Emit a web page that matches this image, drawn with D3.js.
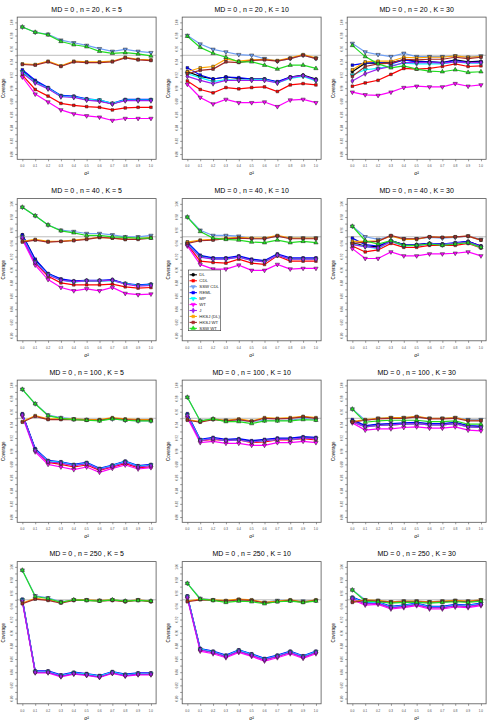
<!DOCTYPE html>
<html>
<head>
<meta charset="utf-8">
<title>coverage</title>
<script src="https://d3js.org/d3.v7.min.js"></script>
<style>
  body { margin: 0; background: #fff; }
  text { font-family: "Liberation Sans", Arial, sans-serif; }
</style>
</head>
<body>
<svg width="495" height="726" id="mainsvg"></svg>
<script>
// methods in legend order
const methods = ["DL", "CDL", "SSW CDL", "REML", "MP", "WT", "J", "HKSJ (DL)", "HKSJ WT", "SSW WT"];
const tau2 = [0, 0.1, 0.2, 0.3, 0.4, 0.5, 0.6, 0.7, 0.8, 0.9, 1.0];
const nValues = [20, 40, 100, 250];
const kValues = [5, 10, 30];
const yTicks = [0.80, 0.82, 0.84, 0.86, 0.88, 0.90, 0.92, 0.94, 0.96, 0.98, 1.00];

// coverage per panel, rows follow `methods`
const cov_n20_k5 = [
  [0.926,0.910,0.900,0.888,0.887,0.883,0.881,0.876,0.882,0.882,0.882],
  [0.920,0.898,0.888,0.877,0.874,0.872,0.871,0.867,0.870,0.871,0.871],
  [0.993,0.985,0.982,0.973,0.969,0.965,0.960,0.956,0.959,0.956,0.954],
  [0.928,0.912,0.901,0.889,0.888,0.884,0.882,0.877,0.883,0.883,0.883],
  [0.925,0.909,0.900,0.888,0.887,0.883,0.882,0.877,0.882,0.882,0.882],
  [0.917,0.891,0.879,0.867,0.861,0.858,0.856,0.851,0.854,0.854,0.854],
  [0.923,0.908,0.899,0.887,0.886,0.882,0.880,0.876,0.881,0.881,0.881],
  [0.937,0.936,0.941,0.934,0.941,0.940,0.940,0.941,0.947,0.944,0.943],
  [0.936,0.935,0.940,0.933,0.940,0.939,0.939,0.940,0.946,0.943,0.942],
  [0.993,0.985,0.981,0.971,0.966,0.963,0.956,0.953,0.954,0.952,0.949]
];
const cov_n20_k10 = [
  [0.925,0.918,0.914,0.917,0.915,0.914,0.914,0.909,0.917,0.920,0.914],
  [0.911,0.898,0.893,0.901,0.899,0.901,0.902,0.895,0.905,0.907,0.905],
  [0.980,0.967,0.959,0.955,0.951,0.950,0.945,0.941,0.945,0.950,0.945],
  [0.931,0.920,0.914,0.917,0.916,0.914,0.914,0.910,0.917,0.919,0.913],
  [0.922,0.916,0.910,0.913,0.912,0.913,0.913,0.908,0.915,0.918,0.911],
  [0.906,0.886,0.876,0.883,0.878,0.878,0.879,0.872,0.882,0.883,0.878],
  [0.918,0.912,0.907,0.912,0.912,0.912,0.912,0.908,0.916,0.919,0.912],
  [0.925,0.931,0.933,0.944,0.941,0.943,0.944,0.942,0.946,0.951,0.946],
  [0.922,0.927,0.929,0.940,0.939,0.942,0.943,0.941,0.945,0.950,0.945],
  [0.979,0.962,0.953,0.947,0.940,0.940,0.935,0.929,0.935,0.935,0.930]
];
const cov_n20_k30 = [
  [0.925,0.938,0.938,0.939,0.943,0.941,0.940,0.939,0.943,0.940,0.941],
  [0.903,0.908,0.912,0.921,0.930,0.929,0.930,0.933,0.937,0.933,0.934],
  [0.968,0.955,0.951,0.948,0.953,0.948,0.948,0.948,0.949,0.947,0.949],
  [0.935,0.938,0.939,0.937,0.943,0.940,0.940,0.939,0.942,0.939,0.940],
  [0.920,0.928,0.930,0.934,0.938,0.937,0.937,0.937,0.940,0.938,0.938],
  [0.894,0.890,0.889,0.894,0.901,0.903,0.902,0.902,0.907,0.903,0.905],
  [0.911,0.922,0.929,0.933,0.939,0.939,0.939,0.938,0.940,0.939,0.939],
  [0.928,0.940,0.941,0.941,0.947,0.946,0.947,0.947,0.949,0.947,0.948],
  [0.918,0.933,0.937,0.938,0.944,0.943,0.944,0.944,0.947,0.945,0.947],
  [0.965,0.948,0.937,0.931,0.934,0.929,0.926,0.925,0.928,0.924,0.925]
];
const cov_n40_k5 = [
  [0.953,0.915,0.894,0.885,0.882,0.883,0.883,0.884,0.879,0.876,0.878],
  [0.948,0.910,0.890,0.880,0.877,0.877,0.877,0.878,0.874,0.872,0.873],
  [0.995,0.982,0.968,0.960,0.958,0.955,0.955,0.953,0.950,0.950,0.952],
  [0.953,0.916,0.894,0.886,0.883,0.884,0.884,0.885,0.879,0.877,0.878],
  [0.950,0.912,0.893,0.884,0.881,0.883,0.883,0.883,0.879,0.876,0.877],
  [0.946,0.907,0.885,0.873,0.868,0.871,0.868,0.873,0.864,0.862,0.863],
  [0.949,0.911,0.892,0.884,0.882,0.883,0.883,0.884,0.878,0.875,0.876],
  [0.943,0.946,0.943,0.943,0.945,0.947,0.949,0.948,0.946,0.947,0.949],
  [0.942,0.945,0.942,0.943,0.944,0.946,0.949,0.948,0.946,0.946,0.948],
  [0.995,0.982,0.968,0.959,0.956,0.952,0.952,0.950,0.949,0.948,0.948]
];
const cov_n40_k10 = [
  [0.940,0.921,0.917,0.917,0.920,0.915,0.913,0.923,0.917,0.917,0.917],
  [0.938,0.913,0.911,0.910,0.916,0.910,0.908,0.921,0.913,0.913,0.913],
  [0.980,0.960,0.952,0.952,0.951,0.947,0.947,0.951,0.948,0.948,0.948],
  [0.942,0.922,0.918,0.918,0.921,0.916,0.914,0.924,0.918,0.918,0.918],
  [0.939,0.920,0.916,0.916,0.919,0.914,0.912,0.922,0.916,0.916,0.916],
  [0.936,0.908,0.901,0.901,0.907,0.899,0.899,0.908,0.901,0.902,0.902],
  [0.938,0.919,0.916,0.916,0.919,0.914,0.912,0.922,0.916,0.916,0.916],
  [0.942,0.945,0.946,0.948,0.949,0.948,0.948,0.952,0.948,0.948,0.948],
  [0.940,0.944,0.945,0.947,0.948,0.947,0.947,0.951,0.947,0.947,0.947],
  [0.980,0.958,0.948,0.946,0.945,0.942,0.941,0.945,0.941,0.943,0.941]
];
const cov_n40_k30 = [
  [0.941,0.936,0.935,0.944,0.938,0.938,0.940,0.939,0.940,0.943,0.936],
  [0.936,0.927,0.930,0.940,0.934,0.934,0.937,0.937,0.937,0.940,0.933],
  [0.966,0.950,0.946,0.951,0.947,0.947,0.949,0.948,0.949,0.951,0.946],
  [0.948,0.938,0.936,0.944,0.938,0.938,0.940,0.939,0.941,0.943,0.936],
  [0.939,0.935,0.932,0.943,0.936,0.937,0.939,0.938,0.940,0.941,0.934],
  [0.932,0.917,0.917,0.927,0.921,0.921,0.924,0.924,0.925,0.927,0.921],
  [0.938,0.935,0.933,0.943,0.937,0.937,0.939,0.938,0.940,0.942,0.935],
  [0.943,0.943,0.944,0.951,0.946,0.946,0.950,0.949,0.950,0.951,0.945],
  [0.940,0.942,0.943,0.952,0.947,0.947,0.950,0.949,0.950,0.951,0.945],
  [0.966,0.944,0.939,0.944,0.937,0.937,0.939,0.937,0.939,0.941,0.934]
];
const cov_n100_k5 = [
  [0.956,0.903,0.885,0.883,0.879,0.882,0.873,0.878,0.884,0.877,0.879],
  [0.956,0.902,0.883,0.880,0.876,0.879,0.871,0.876,0.881,0.875,0.876],
  [0.994,0.972,0.955,0.951,0.949,0.948,0.947,0.949,0.947,0.946,0.946],
  [0.957,0.904,0.886,0.884,0.880,0.883,0.874,0.879,0.885,0.878,0.880],
  [0.955,0.902,0.885,0.883,0.879,0.882,0.873,0.878,0.884,0.877,0.879],
  [0.953,0.899,0.880,0.876,0.872,0.876,0.868,0.874,0.879,0.873,0.875],
  [0.955,0.901,0.884,0.882,0.878,0.881,0.872,0.877,0.883,0.876,0.878],
  [0.945,0.954,0.949,0.949,0.949,0.948,0.948,0.951,0.949,0.948,0.948],
  [0.944,0.953,0.948,0.948,0.948,0.947,0.947,0.950,0.948,0.947,0.947],
  [0.994,0.972,0.954,0.950,0.948,0.947,0.946,0.949,0.947,0.946,0.946]
];
const cov_n100_k10 = [
  [0.956,0.917,0.920,0.917,0.918,0.915,0.917,0.919,0.919,0.921,0.920],
  [0.953,0.916,0.918,0.916,0.917,0.913,0.914,0.917,0.917,0.919,0.917],
  [0.982,0.946,0.949,0.947,0.947,0.945,0.947,0.947,0.947,0.950,0.948],
  [0.957,0.918,0.921,0.918,0.919,0.916,0.918,0.920,0.920,0.922,0.921],
  [0.955,0.917,0.919,0.916,0.917,0.914,0.916,0.918,0.918,0.920,0.919],
  [0.951,0.913,0.915,0.912,0.912,0.909,0.909,0.913,0.913,0.915,0.913],
  [0.954,0.916,0.919,0.916,0.917,0.914,0.916,0.918,0.918,0.920,0.919],
  [0.948,0.945,0.949,0.947,0.949,0.946,0.951,0.950,0.951,0.953,0.951],
  [0.947,0.944,0.948,0.946,0.948,0.945,0.950,0.949,0.950,0.952,0.950],
  [0.982,0.946,0.949,0.945,0.945,0.942,0.946,0.946,0.946,0.948,0.947]
];
const cov_n100_k30 = [
  [0.946,0.938,0.940,0.941,0.942,0.943,0.941,0.941,0.943,0.938,0.937],
  [0.945,0.937,0.939,0.940,0.941,0.942,0.940,0.940,0.942,0.937,0.936],
  [0.964,0.947,0.950,0.951,0.951,0.952,0.950,0.950,0.951,0.948,0.948],
  [0.948,0.939,0.941,0.942,0.943,0.944,0.942,0.942,0.944,0.939,0.938],
  [0.945,0.937,0.939,0.940,0.941,0.942,0.940,0.940,0.942,0.937,0.936],
  [0.943,0.932,0.934,0.934,0.936,0.937,0.935,0.935,0.937,0.932,0.931],
  [0.945,0.937,0.939,0.940,0.941,0.942,0.940,0.940,0.942,0.937,0.936],
  [0.945,0.948,0.950,0.951,0.951,0.953,0.950,0.950,0.951,0.947,0.947],
  [0.944,0.947,0.949,0.950,0.950,0.952,0.949,0.949,0.950,0.946,0.946],
  [0.964,0.944,0.946,0.947,0.947,0.947,0.945,0.945,0.946,0.941,0.941]
];
const cov_n250_k5 = [
  [0.950,0.841,0.841,0.835,0.839,0.837,0.834,0.840,0.836,0.838,0.838],
  [0.949,0.840,0.840,0.834,0.838,0.836,0.833,0.839,0.835,0.837,0.837],
  [0.995,0.956,0.953,0.947,0.950,0.950,0.949,0.950,0.948,0.950,0.948],
  [0.951,0.842,0.842,0.836,0.840,0.838,0.835,0.841,0.837,0.839,0.839],
  [0.950,0.841,0.841,0.835,0.839,0.837,0.834,0.840,0.836,0.838,0.838],
  [0.947,0.839,0.839,0.833,0.837,0.835,0.832,0.838,0.834,0.836,0.836],
  [0.948,0.840,0.840,0.834,0.838,0.836,0.833,0.839,0.835,0.837,0.837],
  [0.945,0.952,0.950,0.946,0.950,0.950,0.949,0.950,0.948,0.950,0.948],
  [0.944,0.951,0.949,0.945,0.949,0.949,0.948,0.949,0.947,0.949,0.947],
  [0.995,0.955,0.952,0.946,0.950,0.949,0.948,0.950,0.948,0.949,0.948]
];
const cov_n250_k10 = [
  [0.955,0.875,0.871,0.865,0.873,0.867,0.860,0.865,0.871,0.864,0.871],
  [0.954,0.874,0.870,0.864,0.872,0.866,0.859,0.864,0.870,0.863,0.870],
  [0.975,0.952,0.950,0.948,0.950,0.949,0.946,0.949,0.949,0.948,0.949],
  [0.956,0.876,0.872,0.866,0.874,0.868,0.861,0.866,0.872,0.865,0.872],
  [0.955,0.875,0.871,0.865,0.873,0.867,0.860,0.865,0.871,0.864,0.871],
  [0.952,0.872,0.868,0.862,0.870,0.864,0.857,0.862,0.868,0.861,0.868],
  [0.954,0.874,0.870,0.864,0.872,0.866,0.859,0.864,0.870,0.863,0.870],
  [0.948,0.951,0.950,0.949,0.951,0.950,0.946,0.948,0.950,0.947,0.950],
  [0.947,0.950,0.949,0.948,0.950,0.949,0.945,0.947,0.949,0.946,0.949],
  [0.975,0.951,0.949,0.946,0.948,0.947,0.944,0.947,0.948,0.946,0.948]
];
const cov_n250_k30 = [
  [0.953,0.945,0.946,0.939,0.941,0.944,0.939,0.939,0.942,0.941,0.944],
  [0.952,0.944,0.945,0.938,0.940,0.943,0.938,0.938,0.941,0.940,0.943],
  [0.965,0.950,0.949,0.947,0.948,0.948,0.947,0.948,0.949,0.948,0.950],
  [0.954,0.946,0.947,0.940,0.942,0.945,0.940,0.940,0.943,0.942,0.945],
  [0.953,0.945,0.946,0.939,0.941,0.944,0.939,0.939,0.942,0.941,0.944],
  [0.950,0.942,0.943,0.936,0.938,0.941,0.936,0.936,0.939,0.938,0.941],
  [0.952,0.944,0.945,0.938,0.940,0.943,0.938,0.938,0.941,0.940,0.943],
  [0.947,0.950,0.949,0.947,0.948,0.948,0.947,0.948,0.949,0.948,0.950],
  [0.946,0.949,0.948,0.946,0.947,0.947,0.946,0.947,0.948,0.947,0.949],
  [0.965,0.948,0.947,0.945,0.946,0.946,0.945,0.946,0.947,0.946,0.948]
];

const covByPanel = [
  [cov_n20_k5, cov_n20_k10, cov_n20_k30],
  [cov_n40_k5, cov_n40_k10, cov_n40_k30],
  [cov_n100_k5, cov_n100_k10, cov_n100_k30],
  [cov_n250_k5, cov_n250_k10, cov_n250_k30]
];

const colors = ["#000000", "#ff0000", "#6f9ff5", "#0000ff", "#00ffff", "#ff00ff", "#a020f0", "#ffa500", "#a52a2a", "#22dd22"];
const shapes = ["circle", "square", "down", "square", "down", "down", "diamond", "square", "square", "up"];

const svg = d3.select('#mainsvg');
const panelW = 165, panelH = 181.5;

// same scales in every panel (R style 4% padding)
const xScale = d3.scaleLinear().domain([-0.04, 1.04]).range([17.2, 156.1]);
const yScale = d3.scaleLinear().domain([0.792, 1.008]).range([159.3, 17.1]);

const line = d3.line().x((d, i) => xScale(tau2[i])).y(d => yScale(d));

function symbolPath(shape) {
  if (shape === 'circle') return d3.symbol(d3.symbolCircle, 7)();
  if (shape === 'square') return d3.symbol(d3.symbolSquare, 7)();
  if (shape === 'diamond') return d3.symbol(d3.symbolDiamond, 8)();
  return d3.symbol(d3.symbolTriangle, 8)();
}
function symbolTransform(shape, x, y) {
  return `translate(${x},${y})` + (shape === 'down' ? ' rotate(180)' : '');
}

nValues.forEach((n, r) => {
  kValues.forEach((K, c) => {
    const g = svg.append('g').attr('transform', `translate(${c * panelW}, ${r * panelH})`);
    const data = covByPanel[r][c];

    g.append('text')
      .attr('x', (xScale.range()[0] + xScale.range()[1]) / 2)
      .attr('y', 11.5)
      .attr('text-anchor', 'middle')
      .attr('font-size', '7px')
      .text(`MD = 0 , n = ${n} , K = ${K}`);

    // reference line at 0.95
    g.append('line')
      .attr('x1', xScale.range()[0]).attr('x2', xScale.range()[1])
      .attr('y1', yScale(0.95)).attr('y2', yScale(0.95))
      .attr('stroke', '#bdbdbd').attr('stroke-width', 1);

    // y axis
    const yAxis = d3.axisLeft(yScale)
      .tickValues(d3.range(0.80, 1.0001, 0.01))
      .tickSize(2).tickFormat('');
    g.append('g').attr('transform', `translate(${xScale.range()[0]},0)`).call(yAxis)
      .call(a => a.select('.domain').remove())
      .selectAll('line').attr('stroke', '#333').attr('stroke-width', 0.5);
    g.selectAll('.ylab').data(yTicks).join('text')
      .attr('class', 'ylab')
      .attr('transform', d => `translate(12.5,${yScale(d)}) rotate(-90)`)
      .attr('text-anchor', 'middle')
      .attr('font-size', '3px').attr('fill', '#444')
      .text(d => d.toFixed(2));

    // x axis
    const xAxis = d3.axisBottom(xScale).tickValues(tau2).tickSize(2).tickFormat('');
    g.append('g').attr('transform', `translate(0,${yScale.range()[0]})`).call(xAxis)
      .call(a => a.select('.domain').remove())
      .selectAll('line').attr('stroke', '#333').attr('stroke-width', 0.5);
    g.selectAll('.xlab').data(tau2).join('text')
      .attr('class', 'xlab')
      .attr('x', d => xScale(d)).attr('y', 167)
      .attr('text-anchor', 'middle')
      .attr('font-size', '3px').attr('fill', '#444')
      .text(d => d.toFixed(1));

    g.append('text')
      .attr('x', (xScale.range()[0] + xScale.range()[1]) / 2).attr('y', 175)
      .attr('text-anchor', 'middle').attr('font-size', '5px')
      .text('σ²');
    g.append('text')
      .attr('transform', `translate(5,${(yScale.range()[0] + yScale.range()[1]) / 2}) rotate(-90)`)
      .attr('text-anchor', 'middle').attr('font-size', '4.5px')
      .text('Coverage');

    // series
    data.forEach((vals, m) => {
      g.append('path').datum(vals)
        .attr('d', line)
        .attr('fill', 'none')
        .attr('stroke', colors[m])
        .attr('stroke-width', 1.2);
    });
    data.forEach((vals, m) => {
      g.selectAll(null).data(vals).join('path')
        .attr('d', symbolPath(shapes[m]))
        .attr('transform', (d, i) => symbolTransform(shapes[m], xScale(tau2[i]), yScale(d)))
        .attr('fill', colors[m])
        .attr('stroke', '#222').attr('stroke-width', 0.5);
    });

    // box
    g.append('rect')
      .attr('x', xScale.range()[0]).attr('y', yScale.range()[1])
      .attr('width', xScale.range()[1] - xScale.range()[0])
      .attr('height', yScale.range()[0] - yScale.range()[1])
      .attr('fill', 'none').attr('stroke', '#555').attr('stroke-width', 0.8);

    // legend in the n = 40, K = 10 panel
    if (r === 1 && c === 1) {
      const lg = g.append('g').attr('transform', 'translate(23.3,88.5)');
      lg.append('rect').attr('width', 32.4).attr('height', 60.7)
        .attr('fill', '#fff').attr('stroke', '#333').attr('stroke-width', 0.6);
      methods.forEach((name, m) => {
        const yy = 4.8 + m * 5.95;
        lg.append('line').attr('x1', 1.2).attr('x2', 8.6).attr('y1', yy).attr('y2', yy)
          .attr('stroke', colors[m]).attr('stroke-width', 1.1);
        lg.append('path').attr('d', symbolPath(shapes[m]))
          .attr('transform', symbolTransform(shapes[m], 4.9, yy))
          .attr('fill', colors[m]).attr('stroke', colors[m]).attr('stroke-width', 0.5);
        lg.append('text').attr('x', 11).attr('y', yy + 1.6)
          .attr('font-size', '4.3px').attr('fill', '#222')
          .text(name);
      });
    }
  });
});
</script>
</body>
</html>
